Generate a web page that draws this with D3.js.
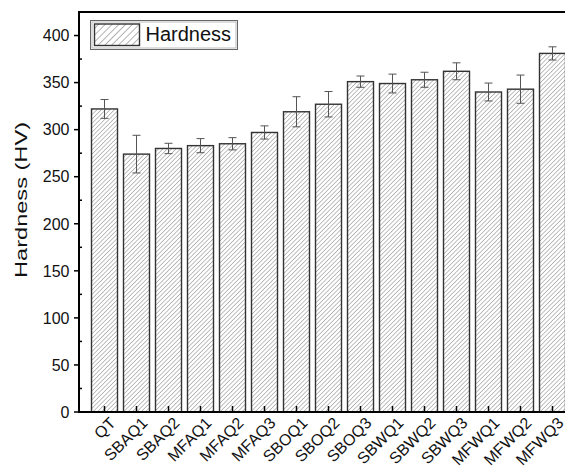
<!DOCTYPE html>
<html>
<head>
<meta charset="utf-8">
<script src="https://cdn.jsdelivr.net/npm/d3@7"></script>
<style>
  html, body { margin: 0; padding: 0; background: #fff; }
  svg { display: block; font-family: Arial, "Liberation Sans", sans-serif; }
</style>
</head>
<body>
<svg id="chart" width="565" height="467"></svg>
<script>
// Hardness measurements (HV) per heat-treatment condition
const categories = ["QT", "SBAQ1", "SBAQ2", "MFAQ1", "MFAQ2", "MFAQ3", "SBOQ1", "SBOQ2",
                    "SBOQ3", "SBWQ1", "SBWQ2", "SBWQ3", "MFWQ1", "MFWQ2", "MFWQ3"];
const hardness = [322, 274, 280, 283, 285, 297, 319, 327, 351, 349, 353, 362, 340, 343, 381];
const hardnessErr = [10, 20, 5.5, 7.5, 6.5, 7, 16, 13.5, 6, 10, 8, 9, 9.5, 15, 7];
const yMajorTicks = [0, 50, 100, 150, 200, 250, 300, 350, 400];
const yMinorTicks = [25, 75, 125, 175, 225, 275, 325, 375, 425];

const svg = d3.select("#chart");
const margin = { left: 79, top: 12, bottom: 412 };

// Categorical positions on a linear index axis (bars centred on integers)
const x = d3.scaleLinear().domain([-0.797, 14.797]).range([margin.left, margin.left + 15.594 * 32]);
const y = d3.scaleLinear().domain([0, 425]).range([margin.bottom, margin.top]);
const barW = 26;

// Diagonal hatch fills (fine for bars, coarser for the legend swatch)
const defs = svg.append("defs");
function hatch(id, step, width) {
  const p = defs.append("pattern")
    .attr("id", id)
    .attr("patternUnits", "userSpaceOnUse")
    .attr("width", step).attr("height", step)
    .attr("patternTransform", "rotate(45)");
  p.append("rect").attr("width", step).attr("height", step).attr("fill", "#fff");
  p.append("line")
    .attr("x1", 0).attr("y1", 0).attr("x2", 0).attr("y2", step)
    .attr("stroke", "#555").attr("stroke-width", width);
}
hatch("hatch", 3.1, 0.75);
hatch("hatchLegend", 4.8, 0.9);

// Bars
svg.append("g").selectAll("rect")
  .data(hardness)
  .join("rect")
  .attr("x", (d, i) => x(i) - barW / 2)
  .attr("y", d => y(d))
  .attr("width", barW)
  .attr("height", d => y(0) - y(d))
  .attr("fill", "url(#hatch)")
  .attr("stroke", "#333")
  .attr("stroke-width", 1.4);

// Error bars
const eg = svg.append("g").attr("stroke", "#555").attr("stroke-width", 1);
hardness.forEach((v, i) => {
  const cx = x(i), e = hardnessErr[i];
  eg.append("line").attr("x1", cx).attr("x2", cx).attr("y1", y(v + e)).attr("y2", y(v - e));
  eg.append("line").attr("x1", cx - 4).attr("x2", cx + 4).attr("y1", y(v + e)).attr("y2", y(v + e));
  eg.append("line").attr("x1", cx - 4).attr("x2", cx + 4).attr("y1", y(v - e)).attr("y2", y(v - e));
});

// Y axis: major ticks outward with labels, minor ticks inward
const yAxis = svg.append("g");
yAxis.selectAll("line.major").data(yMajorTicks).join("line")
  .attr("x1", margin.left - 5).attr("x2", margin.left)
  .attr("y1", d => y(d)).attr("y2", d => y(d))
  .attr("stroke", "#000").attr("stroke-width", 1.5);
yAxis.selectAll("line.minor").data(yMinorTicks).join("line")
  .attr("x1", margin.left).attr("x2", margin.left + 3)
  .attr("y1", d => y(d)).attr("y2", d => y(d))
  .attr("stroke", "#000").attr("stroke-width", 1.5);
yAxis.selectAll("text").data(yMajorTicks).join("text")
  .attr("x", margin.left - 9.5)
  .attr("y", d => y(d))
  .attr("dy", "0.36em")
  .attr("text-anchor", "end")
  .attr("font-size", 16)
  .attr("fill", "#111")
  .text(d => d);

// X axis ticks (inward) and rotated category labels
const xAxis = svg.append("g");
xAxis.selectAll("line").data(categories).join("line")
  .attr("x1", (d, i) => x(i)).attr("x2", (d, i) => x(i))
  .attr("y1", margin.bottom).attr("y2", margin.bottom - 6)
  .attr("stroke", "#000").attr("stroke-width", 1.5);
xAxis.selectAll("text").data(categories).join("text")
  .attr("transform", (d, i) => `translate(${x(i) + 4},${margin.bottom + 4}) rotate(-45)`)
  .attr("text-anchor", "end")
  .attr("dy", "0.71em")
  .attr("font-size", 16)
  .attr("fill", "#111")
  .text(d => d);

// Frame lines: left axis, bottom axis, top border
const rightEdge = x(14.797);
svg.append("line").attr("x1", margin.left).attr("x2", margin.left)
  .attr("y1", margin.top).attr("y2", margin.bottom + 1)
  .attr("stroke", "#000").attr("stroke-width", 2);
svg.append("line").attr("x1", margin.left - 1).attr("x2", rightEdge)
  .attr("y1", margin.bottom).attr("y2", margin.bottom)
  .attr("stroke", "#000").attr("stroke-width", 2);
svg.append("line").attr("x1", margin.left - 1).attr("x2", rightEdge)
  .attr("y1", margin.top).attr("y2", margin.top)
  .attr("stroke", "#000").attr("stroke-width", 2);

// Y axis title
svg.append("text")
  .attr("transform", "translate(26.7,200) rotate(-90)")
  .attr("text-anchor", "middle")
  .attr("font-size", 17)
  .attr("textLength", 156)
  .attr("lengthAdjust", "spacingAndGlyphs")
  .attr("fill", "#111")
  .text("Hardness (HV)");

// Legend
const lg = svg.append("g");
lg.append("rect").attr("x", 90.5).attr("y", 20.5).attr("width", 147).attr("height", 29)
  .attr("fill", "#fff").attr("stroke", "#666").attr("stroke-width", 1);
lg.append("rect").attr("x", 92).attr("y", 22).attr("width", 144).attr("height", 26)
  .attr("fill", "none").attr("stroke", "#aaa").attr("stroke-width", 0.8);
lg.append("rect").attr("x", 94.5).attr("y", 24).attr("width", 45).attr("height", 21.5)
  .attr("fill", "url(#hatchLegend)").attr("stroke", "#333").attr("stroke-width", 1.4);
lg.append("text").attr("x", 145.5).attr("y", 40.8)
  .attr("font-size", 20).attr("fill", "#111")
  .text("Hardness");
</script>
</body>
</html>
